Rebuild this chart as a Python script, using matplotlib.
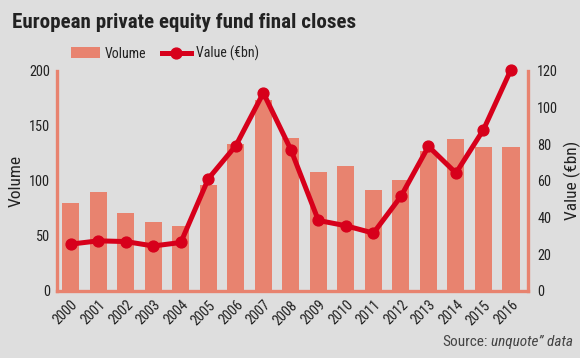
import matplotlib
matplotlib.use("Agg")
import matplotlib.pyplot as plt
from matplotlib import font_manager as fm
from matplotlib.font_manager import FontProperties
from matplotlib.lines import Line2D
from matplotlib.patches import Patch
import numpy as np

years = ["2000", "2001", "2002", "2003", "2004", "2005", "2006", "2007", "2008",
         "2009", "2010", "2011", "2012", "2013", "2014", "2015", "2016"]
volume = [80, 90, 71, 63, 59, 96, 133, 173, 139, 108, 113, 92, 101, 127, 138, 131, 131]
value_bn = [25.5, 27.3, 26.9, 24.5, 26.4, 61.1, 79.1, 107.8, 76.9, 38.4, 35.5, 31.5,
            51.5, 78.7, 64.2, 87.8, 120.5]
vol_ticks = [0, 50, 100, 150, 200]
val_ticks = [0, 20, 40, 60, 80, 100, 120]

BG = "#dedede"
BAR = "#e8836f"
RED = "#d7001b"
TXT = "#222222"

PREF = ['Roboto Condensed', 'Archivo Narrow', 'PT Sans Narrow',
        'Liberation Sans Narrow', 'Barlow Semi Condensed']


def wnum(w):
    if isinstance(w, (int, float)):
        return w
    return {'normal': 400, 'regular': 400, 'bold': 700, 'medium': 500,
            'light': 300}.get(str(w).lower(), 400)


def fp(size, weight=400, style='normal'):
    for n in PREF:
        c = [f for f in fm.fontManager.ttflist if f.name == n and f.style == style]
        if c:
            best = min(c, key=lambda f: abs(wnum(f.weight) - weight))
            return FontProperties(fname=best.fname, size=size)
    return FontProperties(family='DejaVu Sans', weight=weight, style=style, size=size)


W, H = 580, 358
fig = plt.figure(figsize=(W / 100, H / 100), dpi=100, facecolor=BG)
ax = fig.add_axes([57 / W, 1 - 291 / H, (527.5 - 57) / W, (291 - 70.5) / H])
ax.set_facecolor(BG)
x = np.arange(len(years))
ax.bar(x, volume, width=0.62, color=BAR, zorder=1)
ax.set_xlim(-0.5, 16.6)
ax.set_ylim(0, 200)
ax.set_yticks(vol_ticks)
ax.set_xticks(x)
ax.set_xticklabels(years, rotation=45, ha='right', rotation_mode='anchor')
ax.tick_params(axis='both', length=0, colors=TXT)
ax.tick_params(axis='y', pad=5)
ax.tick_params(axis='x', pad=5)
tick_fp = fp(10.3)
for lbl in ax.get_xticklabels() + ax.get_yticklabels():
    lbl.set_fontproperties(tick_fp)
ax.set_ylabel("Volume", fontproperties=fp(12.5), color=TXT, labelpad=4)
for s in ['top', 'right']:
    ax.spines[s].set_visible(False)
for s in ['left', 'bottom']:
    ax.spines[s].set_color(BAR)
    ax.spines[s].set_linewidth(2.4)

ax2 = ax.twinx()
ax2.set_ylim(0, 120)
ax2.set_yticks(val_ticks)
ax2.plot(x, value_bn, color=RED, lw=3.6, marker='o', ms=7.8, zorder=3, clip_on=False)
ax2.tick_params(axis='y', length=0, colors=TXT, pad=7)
for lbl in ax2.get_yticklabels():
    lbl.set_fontproperties(tick_fp)
ax2.set_ylabel("Value (€bn)", fontproperties=fp(12.5), color=TXT, labelpad=4)
for s in ['top', 'left', 'bottom']:
    ax2.spines[s].set_visible(False)
ax2.spines['right'].set_color(BAR)
ax2.spines['right'].set_linewidth(2.4)

fig.text(12.5 / W, 1 - 22 / H, "European private equity fund final closes",
         fontproperties=fp(15.1, 700), color=TXT, va='center', ha='left')

handles = [Patch(facecolor=BAR, edgecolor='none'),
           Line2D([0], [0], color=RED, lw=3.6, marker='o', ms=7.8)]
fig.legend(handles, ["Volume", "Value (€bn)"], loc='center left',
           bbox_to_anchor=(71 / W, 1 - 53.5 / H), ncol=2, frameon=False,
           prop=fp(10), handlelength=2.1, handleheight=0.85, columnspacing=1.1,
           handletextpad=0.35, borderaxespad=0, borderpad=0, labelcolor=TXT)

t2 = fig.text(573 / W, 1 - 342 / H, "unquote\u201d data", fontproperties=fp(11, 400, 'italic'),
              color="#444444", ha='right', va='center')
fig.canvas.draw()
bb = t2.get_window_extent()
fig.text((bb.x0 - 3) / W, 1 - 342 / H, "Source:", fontproperties=fp(11),
         color="#444444", ha='right', va='center')

fig.savefig("out.png", dpi=100, facecolor=BG)
